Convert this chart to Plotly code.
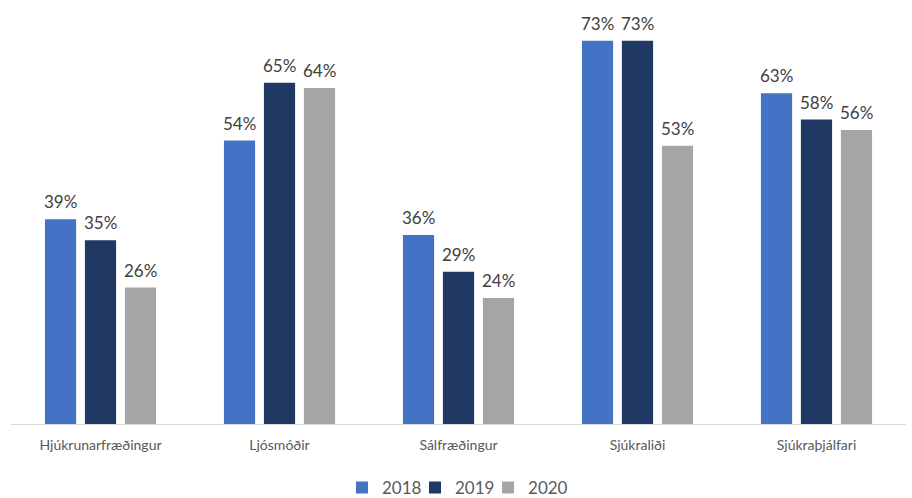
import plotly.graph_objects as go

categories = ["Hjúkrunarfræðingur", "Ljósmóðir", "Sálfræðingur", "Sjúkraliði", "Sjúkraþjálfari"]
series_names = ["2018", "2019", "2020"]
v2018 = [0.39, 0.54, 0.36, 0.73, 0.63]
v2019 = [0.35, 0.65, 0.29, 0.73, 0.58]
v2020 = [0.26, 0.64, 0.24, 0.53, 0.56]
colors = ["#4472C4", "#203864", "#A5A5A5"]

FONT = "Lato, Open Sans, sans-serif"
legend_ids = ["legend", "legend2", "legend3"]
legend_x = [0.3698, 0.4514, 0.5330]

fig = go.Figure()
all_series = [v2018, v2019, v2020]
for name, vals, col, lid in zip(series_names, all_series, colors, legend_ids):
    fig.add_trace(go.Bar(
        x=categories, y=vals, name=name, legend=lid,
        marker=dict(color=col, line=dict(width=0)),
        hoverinfo="skip",
    ))

# data labels above bars, offset per series within the group
slot_px = 40
for i, vals in enumerate(all_series):
    for cat, v in zip(categories, vals):
        fig.add_annotation(
            x=cat, y=v, xref="x", yref="y",
            text=f"{round(v*100)}%", showarrow=False,
            xanchor="center", yanchor="bottom",
            xshift=(i - 1) * slot_px, yshift=5,
            font=dict(family=FONT, size=17, color="#404040"),
        )

legend_common = dict(orientation="h", xanchor="left", y=-0.152, yanchor="middle",
                     font=dict(size=17, color="#595959"), itemwidth=30,
                     bgcolor="rgba(0,0,0,0)")
fig.update_layout(
    width=912, height=498,
    barmode="group", bargap=0.33, bargroupgap=0.22,
    paper_bgcolor="white", plot_bgcolor="white",
    margin=dict(l=11, r=6, t=4, b=74, autoexpand=False),
    font=dict(family=FONT, color="#595959"),
    xaxis=dict(showline=True, linecolor="#D9D9D9", linewidth=1, ticks="",
               ticklabelstandoff=8,
               tickfont=dict(size=14, color="#595959"), showgrid=False),
    yaxis=dict(range=[0, 0.8], visible=False, showgrid=False, zeroline=False),
    legend=dict(x=legend_x[0], **legend_common),
    legend2=dict(x=legend_x[1], **legend_common),
    legend3=dict(x=legend_x[2], **legend_common),
    showlegend=True,
)
fig.write_html("out.html", config={"displayModeBar": False},
               post_script="document.body.style.margin='0';")
